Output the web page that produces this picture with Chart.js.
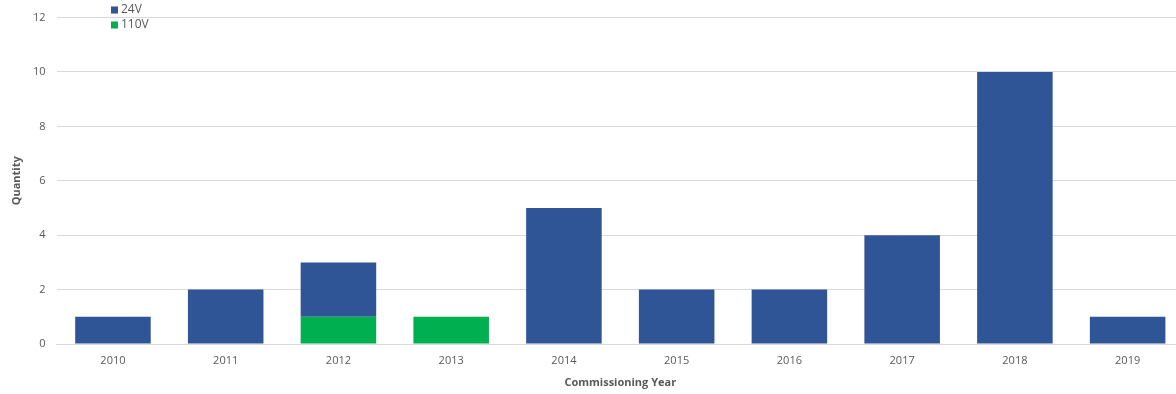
<!DOCTYPE html>
<html>
<head>
<meta charset="utf-8">
<script src="https://cdn.jsdelivr.net/npm/chart.js@4/dist/chart.umd.min.js"></script>
<style>
  html, body { margin: 0; padding: 0; background: #fff; overflow: hidden; }
  /* plot runs a little past the right edge of the window */
  #wrap { width: 1184px; height: 394px; }
</style>
</head>
<body>
<div id="wrap"><canvas id="chartYears"></canvas></div>
<script>
// Commissioning years and quantities per voltage
const years = ['2010', '2011', '2012', '2013', '2014', '2015', '2016', '2017', '2018', '2019'];
const qty24V = [1, 2, 2, 0, 5, 2, 2, 4, 10, 1];
const qty110V = [0, 0, 1, 1, 0, 0, 0, 0, 0, 0];
const yTicks = [0, 2, 4, 6, 8, 10, 12];

const colors = {
    v24: '#2F5597',
    v110: '#00B050',
    text: '#595959',
    grid: '#D9D9D9'
};
const fontFamily = '"Open Sans", sans-serif';

// Small legend drawn inside the plot, top-left
const insideLegend = {
    id: 'insideLegend',
    afterDraw(chart) {
        const ctx = chart.ctx;
        ctx.save();
        ctx.font = '12px ' + fontFamily;
        ctx.textBaseline = 'middle';
        chart.data.datasets.forEach((ds, i) => {
            const y = 10 + i * 15;
            ctx.fillStyle = ds.backgroundColor;
            ctx.fillRect(111, y - 3.5, 7, 7);
            ctx.fillStyle = colors.text;
            ctx.fillText(ds.label, 121, y);
        });
        ctx.restore();
    }
};

new Chart(document.getElementById('chartYears'), {
    type: 'bar',
    data: {
        labels: years,
        datasets: [
            { label: '24V', data: qty24V, backgroundColor: colors.v24, order: 2 },
            { label: '110V', data: qty110V, backgroundColor: colors.v110, order: 1 }
        ]
    },
    options: {
        responsive: true,
        maintainAspectRatio: false,
        animation: false,
        layout: { padding: { top: 12, right: 0, bottom: 6, left: 11 } },
        datasets: {
            bar: { barPercentage: 0.67, categoryPercentage: 1.0 }
        },
        plugins: {
            legend: { display: false },
            tooltip: { enabled: false }
        },
        scales: {
            x: {
                stacked: true,
                grid: { display: false, drawTicks: false },
                border: { color: colors.grid, width: 1 },
                ticks: { color: colors.text, font: { family: fontFamily, size: 11, lineHeight: 1 }, padding: 11 },
                title: {
                    display: true,
                    text: 'Commissioning Year',
                    color: colors.text,
                    font: { family: fontFamily, size: 11, weight: 'bold', lineHeight: 1 },
                    padding: { top: 0, bottom: 0 }
                }
            },
            y: {
                stacked: true,
                min: 0,
                max: 12,
                afterBuildTicks: axis => { axis.ticks = yTicks.map(v => ({ value: v })); },
                grid: { color: colors.grid, drawTicks: false },
                border: { display: false },
                ticks: { color: colors.text, font: { family: fontFamily, size: 11 }, padding: 11 },
                title: {
                    display: true,
                    text: 'Quantity',
                    color: colors.text,
                    font: { family: fontFamily, size: 11, weight: 'bold', lineHeight: 1 },
                    padding: { top: 0, bottom: 0 }
                }
            }
        }
    },
    plugins: [insideLegend]
});
</script>
</body>
</html>
